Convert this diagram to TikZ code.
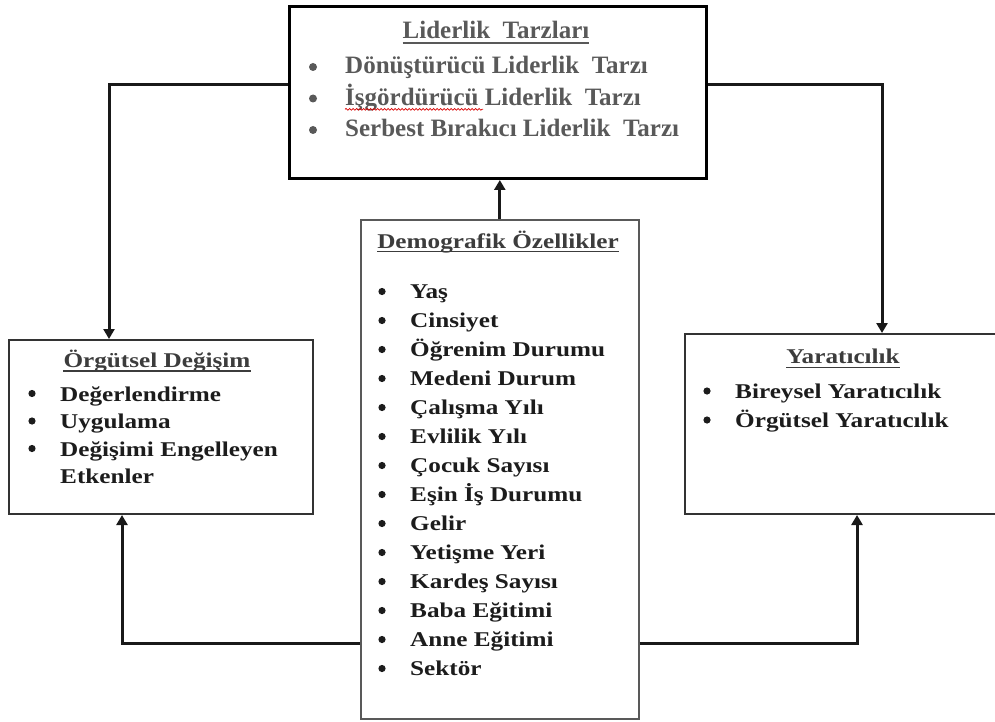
\documentclass[tikz,border=0pt]{standalone}
\usepackage{fontspec}
\setmainfont{Liberation Serif}
\newfontfamily\widefont[FakeStretch=1.2]{Liberation Serif}
\usetikzlibrary{arrows.meta,calc,decorations.pathmorphing}
\definecolor{topgray}{HTML}{595959}
\definecolor{itemblack}{HTML}{1C1C1C}
\definecolor{titlegray}{HTML}{3C3C3C}
\tikzset{
  boxthick/.style={draw=black, line width=3pt, inner sep=0pt, anchor=north west},
  boxthin/.style={draw=black!80, line width=2pt, inner sep=0pt, anchor=north west},
  boxcenter/.style={draw=black!65, line width=1.6pt, inner sep=0pt, anchor=north west},
  topitem/.style={anchor=base west, inner sep=0pt, text=topgray, font=\fontsize{25}{30}\selectfont\bfseries},
  toptitle/.style={anchor=base, inner sep=0pt, text=topgray, font=\fontsize{25}{30}\selectfont\bfseries},
  lowitem/.style={anchor=base west, inner sep=0pt, text=itemblack, font=\widefont\fontsize{21}{25}\selectfont\bfseries},
  lowtitle/.style={anchor=base, inner sep=0pt, text=titlegray, font=\widefont\fontsize{21}{25}\selectfont\bfseries},
  conn/.style={draw=black!90, line width=3pt, -{Triangle[width=11pt,length=10pt]}},
  uline/.style={line width=1.4pt},
}
\begin{document}
\begin{tikzpicture}[x=1pt,y=-1pt]
\useasboundingbox (0,0) rectangle (995,722);

% boxes
\node[boxthick, minimum width=417pt, minimum height=172pt] (top) at (288,5) {};
\node[boxthin, minimum width=304pt, minimum height=174pt] (left) at (8,339) {};
\node[boxthin, minimum width=316pt, minimum height=180pt] (right) at (684,333) {};
\node[boxcenter, minimum width=278pt, minimum height=499pt] (demo) at (360,219) {};

% top box text
\node[toptitle] (tt) at (496,39) {Liderlik\ \ Tarzları};
\draw[uline, topgray] ($(tt.base west)+(0,4)$) -- ($(tt.base east)+(0,4)$);
\node[topitem] (t1) at (345,74) {Dönüştürücü Liderlik\ \ Tarzı};
\node[topitem] (t2) at (345,105.5) {İşgördürücü Liderlik\ \ Tarzı};
\node[topitem] (t3) at (345,137) {Serbest Bırakıcı Liderlik\ \ Tarzı};
\foreach \n in {t1,t2,t3}
  \fill[topgray] ($(\n.base west)+(-32,-7)$) circle (4pt);
\draw[red!85!black, line width=0.7pt, decorate, decoration={snake, amplitude=0.9pt, segment length=3.5pt}]
  ($(t2.base west)+(0,3.8)$) -- ($(t2.base west)+(138,3.8)$);

% left box text
\node[lowtitle] (lt) at (157,367) {Örgütsel Değişim};
\draw[uline, titlegray] ($(lt.base west)+(0,4)$) -- ($(lt.base east)+(0,4)$);
\node[lowitem] (l1) at (60,401) {Değerlendirme};
\node[lowitem] (l2) at (60,428.5) {Uygulama};
\node[lowitem] (l3) at (60,456) {Değişimi Engelleyen};
\node[lowitem] (l4) at (60,483.5) {Etkenler};
\foreach \n in {l1,l2,l3}
  \fill[itemblack] ($(\n.base west)+(-28,-7.5)$) circle (3.6pt);

% right box text
\node[lowtitle] (rt) at (843,363) {Yaratıcılık};
\draw[uline, titlegray] ($(rt.base west)+(0,4.5)$) -- ($(rt.base east)+(0,4.5)$);
\node[lowitem] (r1) at (735,398) {Bireysel Yaratıcılık};
\node[lowitem] (r2) at (735,427) {Örgütsel Yaratıcılık};
\foreach \n in {r1,r2}
  \fill[itemblack] ($(\n.base west)+(-28,-7)$) circle (3.6pt);

% center box text
\node[lowtitle] (dt) at (498,248) {Demografik Özellikler};
\draw[uline, titlegray] ($(dt.base west)+(0,3.5)$) -- ($(dt.base east)+(0,3.5)$);
\foreach \t [count=\i from 0] in {Yaş, Cinsiyet, Öğrenim Durumu, Medeni Durum, Çalışma Yılı, Evlilik Yılı, Çocuk Sayısı, Eşin İş Durumu, Gelir, Yetişme Yeri, Kardeş Sayısı, Baba Eğitimi, Anne Eğitimi, Sektör}
{
  \node[lowitem] (d\i) at (410,298+29*\i) {\t};
  \fill[itemblack] ($(d\i.base west)+(-28,-6.5)$) circle (3.6pt);
}

% connectors
\coordinate (tl) at (109,85);
\coordinate (tr) at (882,85);
\coordinate (bl) at (122,643);
\coordinate (br) at (857,643);
\draw[conn] (top.west |- tl) -| (left.north -| tl);
\draw[conn] (top.east |- tr) -| (right.north -| tr);
\draw[conn] (demo.north) -- (top.south -| demo.north);
\draw[conn] (demo.west |- bl) -| (left.south -| bl);
\draw[conn] (demo.east |- br) -| (right.south -| br);
\end{tikzpicture}
\end{document}
